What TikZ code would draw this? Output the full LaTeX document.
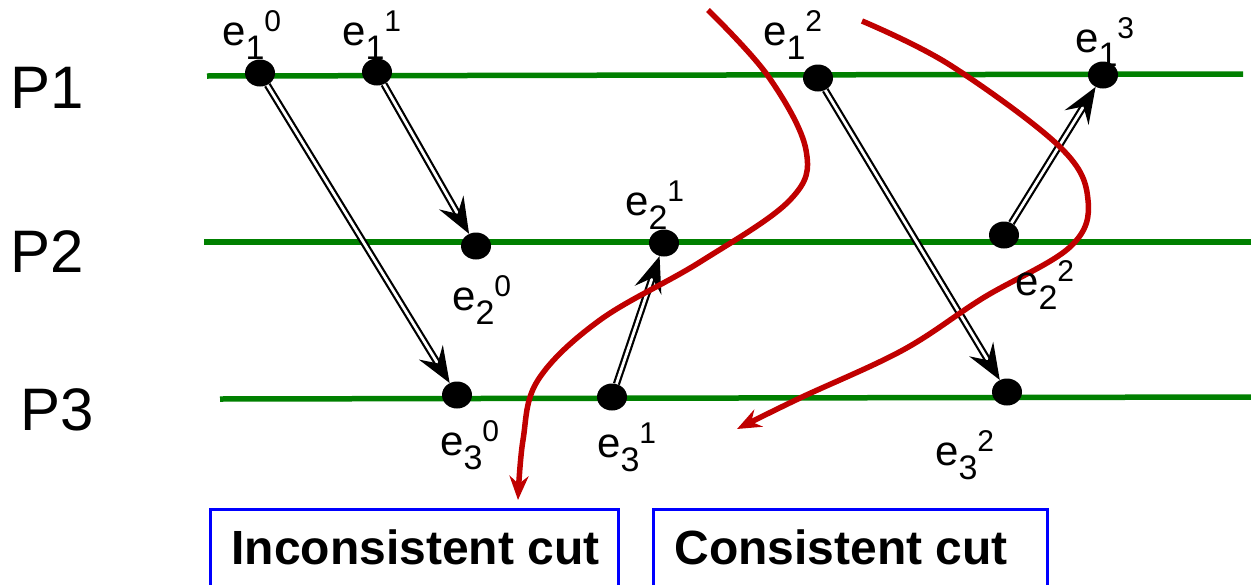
\documentclass[tikz,border=0pt]{standalone}
\usepackage{fontspec}
\setmainfont{Liberation Sans}
\usetikzlibrary{arrows.meta,shapes.geometric}
\definecolor{cutred}{RGB}{192,0,0}
\newcommand{\ev}[2]{e\raisebox{-14pt}{\fontsize{34}{34}\selectfont #1}\raisebox{14pt}{\fontsize{30}{30}\selectfont #2}}

\begin{document}
\begin{tikzpicture}[x=1pt,y=-1pt,
  proc/.style={line width=5.5pt,green!50!black},
  evt/.style={ellipse,fill=black,inner sep=0pt,minimum width=30pt,minimum height=27pt},
  msg/.style={draw=black,line width=2.2pt,double=white,double distance=2.8pt,
    -{Stealth[length=36pt,width=28pt,inset=13pt]}},
  cut/.style={line width=5.5pt,draw=cutred,-{Stealth[length=24pt,width=19pt,inset=8pt]}},
  lbl/.style={anchor=base west,inner sep=0pt,font=\fontsize{42}{42}\selectfont},
  pname/.style={anchor=base west,inner sep=0pt,font=\fontsize{60}{60}\selectfont},
  cutbox/.style={draw=blue,line width=3pt,anchor=west,minimum height=77pt,inner sep=0pt,
    font=\bfseries\fontsize{48}{48}\selectfont}]
  \useasboundingbox (0,0) rectangle (1251,584);
  % processes
  \node[pname] (p1) at (10,108) {P1};
  \node[pname] (p2) at (10,272) {P2};
  \node[pname] (p3) at (20,430) {P3};
  \draw[proc] (207,76) -- (1243,74);
  \draw[proc] (204,242) -- (1251,242);
  \draw[proc] (220,399) -- (1251,397);
  % events
  \node[evt] (e10) at (260,73) {};
  \node[evt] (e11) at (377,72) {};
  \node[evt] (e12) at (818,78) {};
  \node[evt] (e13) at (1103,75) {};
  \node[evt] (e20) at (476,246) {};
  \node[evt] (e21) at (664,243) {};
  \node[evt] (e22) at (1004,235) {};
  \node[evt] (e30) at (457,395) {};
  \node[evt] (e31) at (612,397) {};
  \node[evt] (e32) at (1007,392) {};
  % messages
  \draw[msg] (e10) -- (e30);
  \draw[msg] (e11) -- (e20);
  \draw[msg] (e31) -- (e21);
  \draw[msg] (e12) -- (e32);
  \draw[msg] (e22) -- (e13);
  % cuts
  \draw[cut] plot[smooth,tension=0.6] coordinates {(708,10) (768,76) (806,150) (790,200)
    (700,262) (600,320) (538,380) (523,440) (518,500)};
  \draw[cut] plot[smooth,tension=0.6] coordinates {(862,21) (950,65) (1060,147) (1088,200)
    (1070,247) (983,298) (903,350) (800,398) (737,429)};
  % labels
  \node[lbl] (l10) at (222,45) {\ev{1}{0}};
  \node[lbl] (l11) at (342,45) {\ev{1}{1}};
  \node[lbl] (l12) at (763,45) {\ev{1}{2}};
  \node[lbl] (l13) at (1075,52) {\ev{1}{3}};
  \node[lbl] (l20) at (452,310) {\ev{2}{0}};
  \node[lbl] (l21) at (625,215) {\ev{2}{1}};
  \node[lbl] (l22) at (1015,295) {\ev{2}{2}};
  \node[lbl] (l30) at (440,455) {\ev{3}{0}};
  \node[lbl] (l31) at (597,457) {\ev{3}{1}};
  \node[lbl] (l32) at (935,465) {\ev{3}{2}};
  \node[cutbox,minimum width=408pt] (bad) at (209,547.5) {\makebox[366pt][l]{Inconsistent cut}};
  \node[cutbox,minimum width=394pt] (good) at (652,547.5) {\makebox[352pt][l]{Consistent cut}};
\end{tikzpicture}
\end{document}
